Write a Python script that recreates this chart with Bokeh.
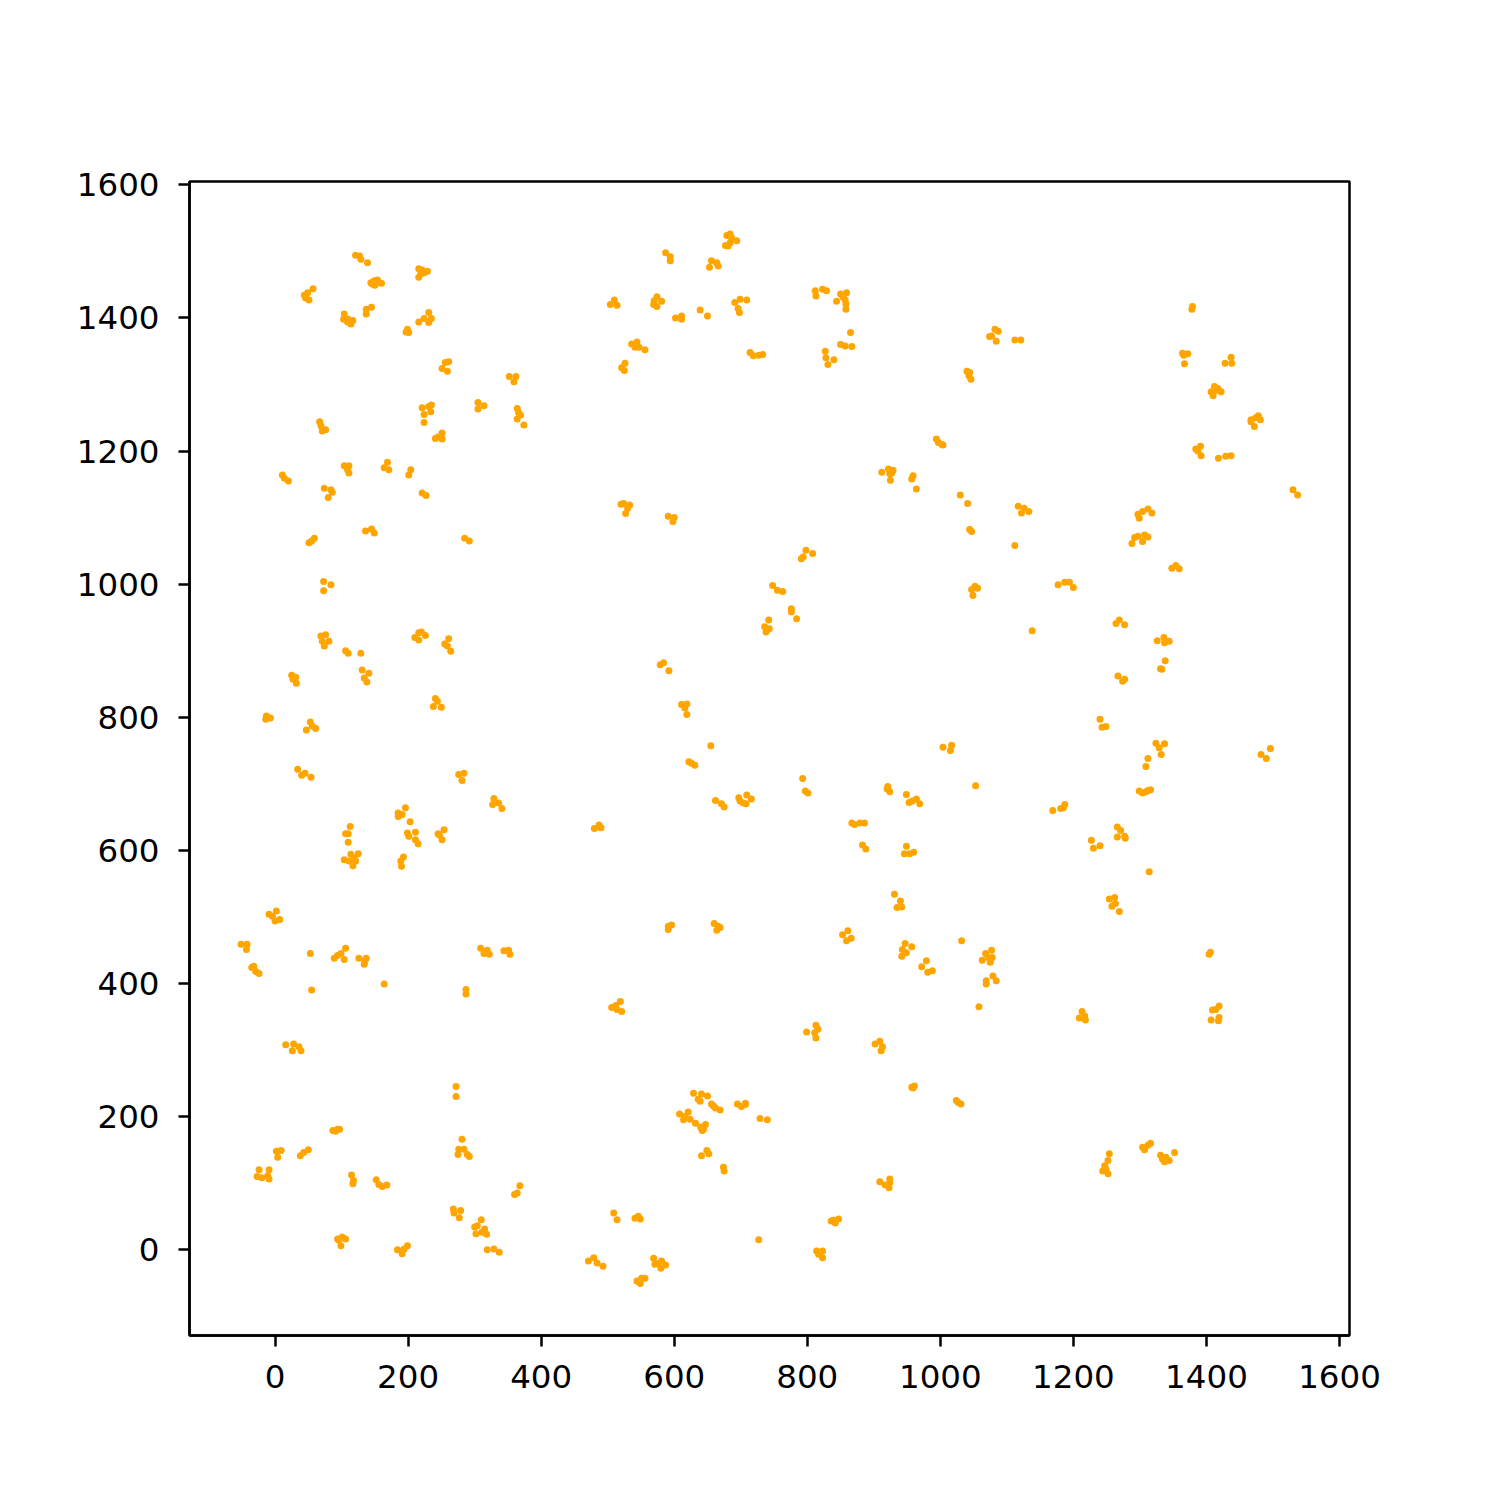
from bokeh.plotting import figure
from bokeh.models import Range1d, FixedTicker
from bokeh.embed import file_html
from bokeh.resources import INLINE

# Points, grouped by region of the plot
region_nw = [(121,1494),(127,1493),(129,1488),(139,1483),
    (216,1474),(221,1472),(229,1470),(216,1461),(219,1466),(224,1468),
    (144,1453),(149,1456),(154,1457),(160,1452),(150,1449),(146,1451),(156,1453),
    (44,1434),(49,1438),(57,1444),(51,1427),(46,1430),
    (104,1406),(103,1398),(110,1398),(114,1391),(117,1396),(109,1394),
    (137,1413),(145,1416),(137,1406),
    (199,1383),(201,1378),(197,1379),
    (216,1394),(224,1399),(231,1408),(235,1399),(231,1393),
    (256,1333),(261,1334),(251,1324),(259,1320),
    (352,1312),(362,1312),(359,1304),
    (305,1273),(314,1268),(305,1263),
    (364,1264),(366,1258),(364,1248),(369,1254),(374,1239),
    (221,1265),(231,1267),(235,1269),(224,1255),(234,1259),(224,1243),
    (241,1219),(251,1227),(251,1218),(245,1221),
    (67,1244),(69,1238),(71,1230),(76,1232),
    (104,1178),(111,1178),(109,1172),
    (164,1175),(169,1183),(171,1172),
    (204,1172)]

region_w1 = [(11,1164),(20,1155),(14,1159),
    (74,1144),(84,1142),(86,1138),(80,1130),
    (111,1167),(201,1164),(221,1137),(227,1133),
    (51,1062),(59,1069),(55,1065),
    (136,1080),(145,1083),(149,1077),
    (285,1069),(292,1065),
    (73,1004),(84,999),(73,990),
    (69,922),(76,924),(74,907),(81,914),(71,914),
    (106,900),(110,896),(129,896),
    (131,871),(141,866),(138,853),(134,859),
    (210,920),(216,927),(220,928),(226,923),(216,916),
    (255,910),(261,918),(264,899),(259,907),
    (25,863),(31,860),(32,851),(27,857),
    (-13,802),(-7,799),(-14,797),
    (53,793),(47,781),(61,783),(56,787),
    (241,828),(238,816),(250,815),(244,824)]

region_w2 = [(34,722),(40,713),(45,716),(54,710),
    (276,714),(284,716),(281,705),
    (329,678),(327,669),(336,671),(341,663),
    (185,656),(191,654),(196,664),(185,651),(203,643),
    (113,636),(106,625),(110,625),(110,612),
    (104,586),(114,594),(119,589),(125,595),(117,577),(111,584),(121,584),
    (199,626),(201,621),(211,627),(211,616),(215,610),
    (189,584),(193,590),(190,576),
    (245,625),(254,631),(251,616),(247,623),
    (-9,504),(2,509),(0,494),(7,496),(-4,501),
    (-51,459),(-42,459),(-43,451),
    (-35,424),(-32,426),(-24,415),(-29,418),
    (53,445),(55,390),
    (89,438),(94,442),(104,436),(106,453),(99,445),
    (126,438),(134,429),(137,438),(135,434),
    (164,399),
    (309,453),(314,445),(319,450),(322,444),
    (344,449),(351,450),(353,444),
    (287,391),(287,384),
    (16,308),(28,309),(36,305),(26,299),(39,299)]

region_sw = [(272,245),(272,230),
    (281,166),(276,151),(284,151),(275,143),(289,143),(292,140),
    (87,179),(94,181),(97,181),(91,178),
    (2,148),(9,149),(4,139),
    (38,141),(43,146),(50,150),
    (-24,120),(-27,110),(-20,108),(-9,120),(-11,111),(-9,106),
    (115,112),(118,104),(117,99),
    (152,105),(156,98),(161,95),(168,97),
    (94,16),(101,19),(106,16),(99,6),(96,14),
    (184,0),(191,-6),(199,6),(194,1),
    (360,83),(364,85),(368,96),
    (268,61),(269,55),(279,59),(277,48),
    (310,45),(300,34),(304,36),(302,24),(315,31),(318,23),(311,26),
    (319,0),(329,1),(337,-4)]

region_n = [(679,1524),(684,1526),(686,1521),(677,1509),(681,1508),(684,1513),(694,1516),
    (587,1498),(594,1492),(594,1486),
    (656,1486),(653,1476),(664,1483),(666,1478),
    (504,1420),(510,1427),(514,1419),
    (569,1420),(574,1432),(574,1417),(581,1425),(570,1426),
    (602,1400),(611,1403),(611,1398),
    (639,1412),(650,1403),
    (691,1423),(699,1428),(709,1427),(696,1414),(698,1408),
    (536,1361),(544,1364),(541,1356),(547,1356),(556,1352),
    (521,1325),(526,1332),(525,1321),
    (714,1348),(719,1343),(727,1344),(733,1345),
    (812,1441),(813,1433),(823,1443),(829,1441),
    (850,1436),(859,1438),(854,1431),(857,1427),(858,1421),(858,1413),(844,1425),
    (865,1378),
    (850,1360),(857,1358),(867,1357),
    (827,1350),(828,1340),(831,1330),(840,1337),
    (994,1218),(997,1213),(1002,1210),(1004,1209),
    (912,1168),(922,1173),(929,1171),(924,1166)]

region_c1 = [(520,1120),(524,1121),(533,1119),(530,1114),(527,1106),
    (591,1102),(600,1100),(598,1094),
    (791,1038),(794,1041),(798,1051),(808,1046),
    (748,998),(755,991),(763,989),
    (776,963),(776,958),(784,948),
    (742,946),(736,936),(738,928),(743,933),
    (579,879),(584,882),(592,870),
    (611,819),(619,820),(616,814),(619,804),
    (655,757),
    (1030,1134),(1041,1121),
    (925,1156),(957,1158),(964,1143),(959,1163),(927,1167),
    (1004,755),(1017,758),(1015,750),
    (626,731),(631,728),(622,733)]

region_ne = [(1082,1383),(1087,1380),(1077,1373),(1074,1372),(1084,1365),
    (1112,1367),(1121,1367),
    (1044,1318),(1046,1308),(1043,1313),(1040,1320),
    (1379,1417),(1378,1413),
    (1364,1347),(1372,1346),(1367,1331),(1366,1344),
    (1428,1332),(1437,1341),(1438,1332),
    (1412,1297),(1417,1294),(1422,1289),(1407,1289),(1410,1283),(1414,1291),
    (1467,1244),(1474,1250),(1478,1253),(1481,1247),(1472,1237),(1467,1247),
    (1384,1203),(1391,1207),(1392,1193),(1387,1200),
    (1418,1189),(1429,1192),(1437,1193)]

region_e1 = [(1117,1117),(1126,1114),(1122,1107),(1133,1109),
    (1044,1082),(1047,1079),(1112,1058),
    (1297,1105),(1304,1109),(1312,1113),(1318,1107),(1299,1099),
    (1292,1070),(1297,1072),(1307,1074),(1312,1071),(1288,1061),(1304,1064),
    (1530,1142),(1537,1134),
    (1348,1024),(1354,1028),(1359,1023),
    (1052,997),(1056,994),(1049,983),(1047,992),
    (1177,999),(1187,1003),(1194,1003),(1200,995),
    (1138,930),
    (1264,941),(1269,946),(1277,939),
    (1326,915),(1336,920),(1344,914),(1337,912),
    (1338,885),(1331,873),(1333,872),
    (1267,862),(1274,854),(1277,857),
    (1240,797),(1243,785),(1249,786),
    (1324,761),(1337,760),(1329,754),(1332,744),(1312,738),
    (1482,744),(1496,753),(1490,738)]

region_c2 = [(793,708),(797,689),(801,686),
    (921,696),(924,688),(920,692),
    (949,684),(953,672),(958,674),(964,677),(969,670),
    (662,675),(671,670),(675,665),
    (697,679),(699,674),(704,671),(708,670),(709,683),(716,677),
    (480,633),(487,638),(490,634),
    (867,641),(871,639),(879,641),(886,641),
    (883,608),(888,602),
    (949,606),(946,595),(954,595),(960,597),
    (931,534),(940,524),(935,514),(942,515),
    (853,473),(861,479),(859,464),(866,468),
    (947,460),(943,451),(949,446),(957,455),(942,441),
    (972,425),(979,434),(981,417),(988,419),
    (1032,464),
    (591,486),(596,488),(591,481),
    (660,490),(666,486),(664,480),(669,484),
    (506,364),(514,361),(519,373),(521,358),(512,367),
    (799,327),(813,337),(813,318),(811,326),(816,331),
    (902,309),(909,313),(913,305),(911,299)]

region_e2 = [(1309,726),(1053,697),
    (1299,689),(1304,686),(1312,690),(1316,691),(1309,688),
    (1169,660),(1181,663),(1187,669),(1185,664),
    (1266,635),(1271,630),(1266,620),(1277,621),(1278,618),
    (1227,615),(1230,603),(1240,607),
    (1314,568),
    (1254,527),(1262,529),(1258,516),(1263,520),(1269,508),
    (1068,445),(1077,450),(1078,439),(1063,435),(1075,432),(1072,439),
    (1069,404),(1069,399),(1079,411),(1084,404),
    (1058,365),
    (1404,444),(1406,447),
    (1213,358),(1209,348),(1218,345),(1217,351),
    (1419,366),(1409,360),(1414,361),(1407,345),(1418,344),(1419,349)]

region_s = [(957,244),(961,246),(959,243),
    (1024,224),(1031,219),(1027,221),
    (629,235),(641,234),(650,231),(636,226),(639,223),
    (656,219),(662,213),(669,210),(659,216),
    (695,219),(701,215),(707,220),(707,218),
    (729,197),(740,195),
    (608,204),(621,207),(614,195),(624,196),(632,190),(616,200),
    (640,184),(642,179),(647,188),(644,181),
    (641,141),(649,149),(652,144),
    (674,124),(675,118),
    (509,55),(514,45),
    (541,47),(546,50),(549,46),
    (727,15),
    (471,-17),(479,-12),(484,-20),(493,-25),
    (569,-13),(571,-22),(581,-17),(587,-23),(580,-28),(576,-21),
    (544,-47),(551,-43),(556,-43),(549,-51),(546,-48),
    (839,44),(847,46),(842,40),(836,43),
    (814,-2),(823,-2),(817,-7),(823,-12),
    (909,102),(917,97),(924,106),(924,101),(923,93)]

region_se = [(1254,144),(1252,134),(1247,126),(1244,118),(1252,114),(1249,121),
    (1304,154),(1312,157),(1316,160),(1307,150),
    (1331,142),(1337,132),(1344,134),(1352,146),(1339,139),(1334,136)]

tick_values = [0, 200, 400, 600, 800, 1000, 1200, 1400, 1600]

regions = [region_nw, region_w1, region_w2, region_sw, region_n, region_c1,
           region_ne, region_e1, region_c2, region_e2, region_s, region_se]
xs = [pt[0] for r in regions for pt in r]
ys = [pt[1] for r in regions for pt in r]

p = figure(output_backend="svg", toolbar_location=None,
           frame_width=1160, frame_height=1154,
           min_border_left=189, min_border_right=140,
           min_border_top=181, min_border_bottom=140,
           x_range=Range1d(-128.6, 1615), y_range=Range1d(-129, 1605))

p.scatter(xs, ys, size=7, fill_color="#FFA500", line_color=None)

p.xgrid.visible = False
p.ygrid.visible = False
p.outline_line_color = "black"
p.outline_line_width = 2.5
p.background_fill_color = "white"
p.border_fill_color = "white"

for ax in (p.xaxis[0], p.yaxis[0]):
    ax.ticker = FixedTicker(ticks=tick_values)
    ax.minor_tick_line_color = None
    ax.major_tick_in = 0
    ax.major_tick_out = 11
    ax.major_tick_line_width = 2.5
    ax.axis_line_width = 2.5
    ax.major_label_text_font = "DejaVu Sans"
    ax.major_label_text_font_size = "32.5px"
    ax.major_label_text_color = "black"

p.xaxis[0].major_label_standoff = 18
p.yaxis[0].major_label_standoff = 19

open("out.html", "w").write(file_html(p, INLINE))
